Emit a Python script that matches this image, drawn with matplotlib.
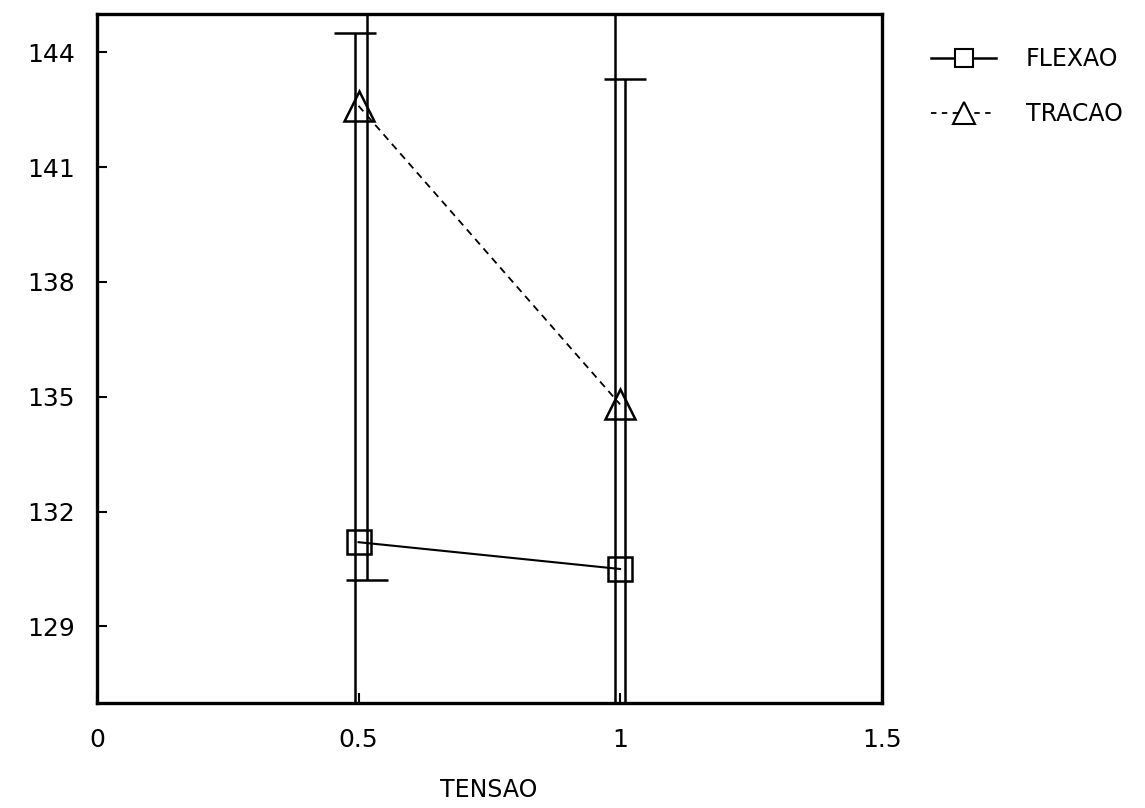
import matplotlib
matplotlib.use("Agg")
import matplotlib.pyplot as plt
from matplotlib.lines import Line2D

plt.rcParams['font.family'] = ['DejaVu Sans']

tensao = [0.5, 1.0]
flexao = [131.2, 130.5]
tracao = [142.6, 134.8]

# error bars (lower, upper); some run past the axes
flexao_err_x = [0.517, 0.99]
flexao_err_lo = [1.0, 20.0]
flexao_err_hi = [20.0, 20.0]
tracao_err_x = [0.494, 1.01]
tracao_err_lo = [20.0, 20.0]
tracao_err_hi = [1.9, 8.5]

x_ticks = [0, 0.5, 1, 1.5]
x_ticklabels = ['0', '0.5', '1', '1.5']
y_ticks = [129, 132, 135, 138, 141, 144]

fig = plt.figure(figsize=(11.45, 8.08), dpi=100)
ax = fig.add_axes([0.0847, 0.130, 0.6853, 0.8527])

ax.errorbar(flexao_err_x, flexao, yerr=[flexao_err_lo, flexao_err_hi], fmt='none',
            ecolor='black', elinewidth=1.8, capsize=15, capthick=1.8)
ax.errorbar(tracao_err_x, tracao, yerr=[tracao_err_lo, tracao_err_hi], fmt='none',
            ecolor='black', elinewidth=1.8, capsize=15, capthick=1.8)

ax.plot(tensao, flexao, color='black', lw=1.5, ls='-', marker='s', ms=17,
        mfc='none', mec='black', mew=1.8, zorder=5)
ax.plot(tensao, tracao, color='black', lw=1.3, ls=(0, (4, 3)), marker='^', ms=21,
        mfc='none', mec='black', mew=1.8, zorder=5)

ax.set_xlim(0, 1.5)
ax.set_ylim(127, 145)
ax.set_xticks(x_ticks)
ax.set_xticklabels(x_ticklabels)
ax.set_yticks(y_ticks)
ax.tick_params(direction='in', length=7, width=1.5, labelsize=18, pad=16,
               top=False, right=False)
ax.tick_params(axis='x', pad=18)
for s in ax.spines.values():
    s.set_linewidth(2.4)

fig.text(489 / 1145, 1 - 790 / 808, 'TENSAO', fontsize=17, ha='center', va='center')

handles = [
    Line2D([0], [0], color='black', lw=1.8, ls='-', marker='s', ms=13,
           mfc='white', mec='black', mew=1.5),
    Line2D([0], [0], color='black', lw=1.3, ls=(0, (3, 3)), marker='^', ms=16,
           mfc='white', mec='black', mew=1.5),
]
fig.legend(handles, ['FLEXAO', 'TRACAO'], loc='upper left',
           bbox_to_anchor=(0.797, 0.965), frameon=False, fontsize=17,
           handlelength=2.75, handletextpad=1.25, labelspacing=1.3,
           borderpad=0.3)

fig.savefig('out.png', dpi=100)
